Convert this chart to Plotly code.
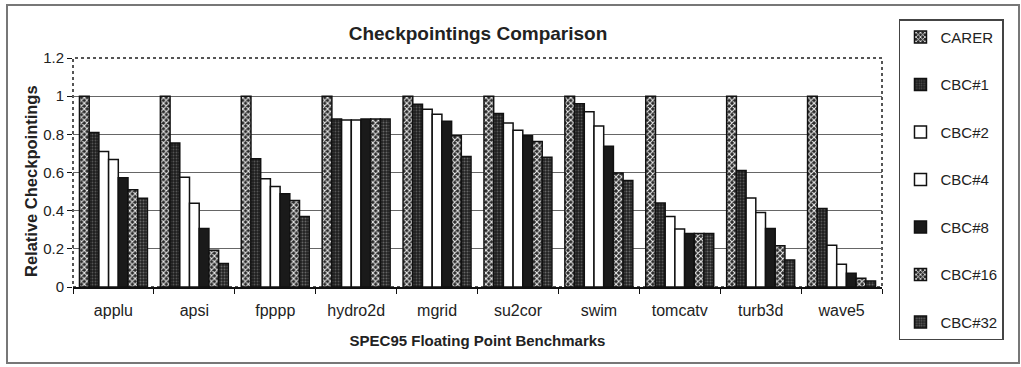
import plotly.graph_objects as go

benchmarks = ["applu", "apsi", "fpppp", "hydro2d", "mgrid", "su2cor", "swim", "tomcatv", "turb3d", "wave5"]
carer = [1.0, 1.0, 1.0, 1.0, 1.0, 1.0, 1.0, 1.0, 1.0, 1.0]
cbc1 = [0.81, 0.755, 0.672, 0.88, 0.958, 0.909, 0.96, 0.44, 0.61, 0.412]
cbc2 = [0.71, 0.575, 0.567, 0.875, 0.932, 0.86, 0.918, 0.37, 0.467, 0.219]
cbc4 = [0.668, 0.439, 0.526, 0.875, 0.905, 0.821, 0.844, 0.304, 0.391, 0.119]
cbc8 = [0.572, 0.307, 0.488, 0.88, 0.868, 0.793, 0.737, 0.281, 0.307, 0.072]
cbc16 = [0.509, 0.193, 0.453, 0.88, 0.793, 0.763, 0.597, 0.281, 0.216, 0.046]
cbc32 = [0.465, 0.123, 0.37, 0.88, 0.684, 0.68, 0.558, 0.281, 0.142, 0.032]

series = [
    ("CARER", carer, dict(shape="x", bgcolor="#2a2a2a", fgcolor="#eeeeee", size=4, solidity=0.45)),
    ("CBC#1", cbc1, dict(shape=".", bgcolor="#1e1e1e", fgcolor="#555555", size=3, solidity=0.3)),
    ("CBC#2", cbc2, dict(shape="", bgcolor="white", fgcolor="white")),
    ("CBC#4", cbc4, dict(shape="", bgcolor="white", fgcolor="white")),
    ("CBC#8", cbc8, dict(shape="", bgcolor="#1a1a1a", fgcolor="#1a1a1a")),
    ("CBC#16", cbc16, dict(shape="x", bgcolor="#2a2a2a", fgcolor="#eeeeee", size=4, solidity=0.45)),
    ("CBC#32", cbc32, dict(shape=".", bgcolor="#222222", fgcolor="#666666", size=3, solidity=0.35)),
]

fig = go.Figure()
for i, (name, vals, pat) in enumerate(series):
    fig.add_trace(go.Bar(
        name=name, x=benchmarks, y=vals,
        legendgroup=name,
        marker=dict(color=pat["bgcolor"], line=dict(color="#111111", width=1.5),
                    pattern=dict(fillmode="replace", **pat)),
    ))

font_family = "Liberation Sans, Arial, sans-serif"
fig.update_layout(
    width=1021, height=367,
    margin=dict(l=73, r=139, t=58, b=80),
    paper_bgcolor="white", plot_bgcolor="white",
    barmode="group", bargap=0.16, bargroupgap=0,
    font=dict(family=font_family, color="#222222", size=15),
    title=dict(text="<b>Checkpointings Comparison</b>", x=478 / 1021, xanchor="center",
               y=1 - 33 / 367, yanchor="middle", font=dict(size=19, color="#222222")),
    legend=dict(x=1.021, xanchor="left", y=1.169, yanchor="top",
                bordercolor="#444444", borderwidth=1.5, bgcolor="white",
                font=dict(size=15, color="#222222"), tracegroupgap=25,
                itemwidth=30, maxheight=400),
    showlegend=True,
)
fig.update_xaxes(
    type="category", showline=True, linecolor="#111111", linewidth=1.5,
    ticks="outside", tickson="boundaries", ticklen=5, tickcolor="#111111",
    showgrid=False, tickfont=dict(size=16), ticklabelstandoff=8,
    title=dict(text="<b>SPEC95 Floating Point Benchmarks</b>", font=dict(size=15), standoff=18),
)
fig.update_yaxes(
    range=[0, 1.2], dtick=0.2, tick0=0, showgrid=True, gridcolor="#666666", gridwidth=1.2,
    ticks="outside", ticklen=5, tickcolor="#111111", showline=False, zeroline=False,
    tickfont=dict(size=15),
)
fig.add_annotation(text="<b>Relative Checkpointings</b>", xref="paper", yref="paper",
                   x=(30.5 - 73) / 809, y=(287 - 181.5) / 229, xanchor="center", yanchor="middle",
                   textangle=-90, showarrow=False, font=dict(size=16.5, color="#222222"))
# dotted plot-area frame
fig.add_shape(type="rect", xref="paper", yref="paper", x0=0, x1=1, y0=0, y1=1,
              line=dict(color="#555555", width=2, dash="dot"), layer="below")
# outer chart frame
fig.add_shape(type="rect", xref="paper", yref="paper",
              x0=(7 - 73) / 809, x1=(1019 - 73) / 809,
              y0=(287 - 363) / 229, y1=(287 - 5) / 229,
              line=dict(color="#777777", width=2))

fig.write_html("out.html")
